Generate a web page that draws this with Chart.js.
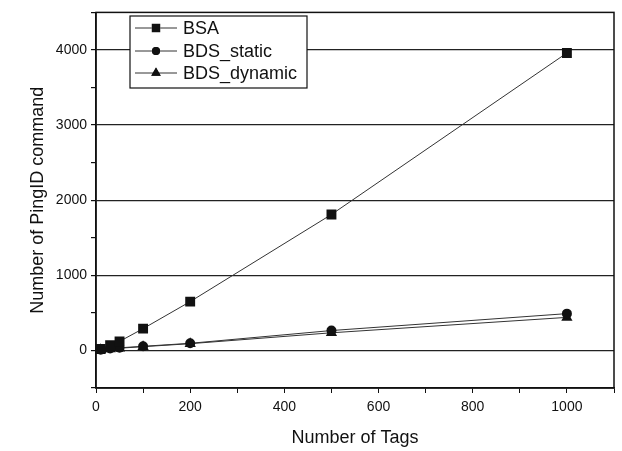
<!DOCTYPE html>
<html>
<head>
<meta charset="utf-8">
<script src="https://cdn.jsdelivr.net/npm/chart.js@4.4.1/dist/chart.umd.min.js"></script>
<style>
  html, body { margin: 0; padding: 0; background: #fff; }
  #wrap { width: 622px; height: 451px; position: relative; }
</style>
</head>
<body>
<div id="wrap"><canvas id="chart"></canvas></div>
<script>
// values
var tags = [10, 30, 50, 100, 200, 500, 1000];
var bsa = [20, 70, 120, 290, 650, 1810, 3960];
var bdsStatic = [10, 25, 35, 55, 95, 265, 490];
var bdsDynamic = [8, 20, 30, 50, 90, 235, 440];
var seriesNames = ['BSA', 'BDS_static', 'BDS_dynamic'];

var ink = '#111';
var font = 'Liberation Sans, Arial, sans-serif';

function points(ys){
    return tags.map((t, i) => ({x: t, y: ys[i]}));
}

function line(label, ys, style, radius){
    return {
        label: label,
        data: points(ys),
        borderColor: '#333',
        borderWidth: 1,
        backgroundColor: ink,
        pointStyle: style,
        pointRadius: radius,
        pointBorderWidth: 0,
        pointBackgroundColor: ink,
        tension: 0
    };
}

// box round the plot + legend inside it
var framePlugin = {
    id: 'frame',
    afterDraw(chart){
        var ctx = chart.ctx;
        var a = chart.chartArea;
        ctx.save();
        ctx.strokeStyle = ink;
        ctx.lineWidth = 1.5;
        ctx.strokeRect(a.left, a.top, a.right - a.left, a.bottom - a.top);

        // legend
        var lx = 130, ly = 16, lw = 177, lh = 72;
        ctx.fillStyle = '#fff';
        ctx.fillRect(lx, ly, lw, lh);
        ctx.lineWidth = 1.2;
        ctx.strokeRect(lx, ly, lw, lh);
        var rows = [28, 51, 73];
        ctx.font = '18px ' + font;
        ctx.textBaseline = 'middle';
        chart.data.datasets.forEach((ds, i) => {
            var y = rows[i];
            ctx.strokeStyle = '#333';
            ctx.lineWidth = 1;
            ctx.beginPath();
            ctx.moveTo(135, y);
            ctx.lineTo(177, y);
            ctx.stroke();
            Chart.helpers.drawPoint(ctx, {pointStyle: ds.pointStyle, radius: ds.pointRadius - 1, borderWidth: 0}, 156, y);
            ctx.fillStyle = ink;
            ctx.fill();
            ctx.fillStyle = ink;
            ctx.fillText(ds.label, 183, y + 1);
        });
        ctx.restore();
    }
};

var ctx = document.getElementById('chart').getContext('2d');
var chart = new Chart(ctx, {
    type: 'line',
    data: {
        datasets: [
            line(seriesNames[0], bsa, 'rect', 7),
            line(seriesNames[1], bdsStatic, 'circle', 5),
            line(seriesNames[2], bdsDynamic, 'triangle', 6.5)
        ]
    },
    options: {
        responsive: true,
        maintainAspectRatio: false,
        animation: false,
        layout: {padding: {top: 6, right: 8, left: 0, bottom: 0}},
        plugins: {
            legend: {display: false},
            tooltip: {enabled: false}
        },
        scales: {
            x: {
                type: 'linear',
                min: 0,
                max: 1100,
                afterFit: function(scale){ scale.height = 63; },
                ticks: {
                    stepSize: 100,
                    color: ink,
                    font: {family: font, size: 14},
                    padding: 6,
                    maxRotation: 0,
                    autoSkip: false,
                    callback: function(v){ return v % 200 === 0 ? v : ''; }
                },
                grid: {drawOnChartArea: false, tickLength: 5, tickColor: ink},
                border: {color: ink, width: 1.5},
                title: {
                    display: true,
                    text: 'Number of Tags',
                    color: ink,
                    font: {family: font, size: 18},
                    padding: {top: 0, bottom: 2}
                }
            },
            y: {
                min: -500,
                max: 4500,
                afterFit: function(scale){ scale.width = 96; },
                ticks: {
                    stepSize: 500,
                    color: ink,
                    font: {family: font, size: 14},
                    padding: 4,
                    autoSkip: false,
                    callback: function(v){ return (v % 1000 === 0 && v >= 0 && v <= 4000) ? v : ''; }
                },
                grid: {
                    tickLength: 5,
                    tickColor: ink,
                    lineWidth: 1.2,
                    color: function(c){
                        var v = c.tick ? c.tick.value : null;
                        return (v !== null && v % 1000 === 0 && v >= 0 && v <= 4000) ? '#222' : 'rgba(0,0,0,0)';
                    }
                },
                border: {color: ink, width: 1.5},
                title: {
                    display: true,
                    text: 'Number of PingID command',
                    color: ink,
                    font: {family: font, size: 18},
                    padding: {top: 27, bottom: 0}
                }
            }
        }
    },
    plugins: [framePlugin]
});
</script>
</body>
</html>
